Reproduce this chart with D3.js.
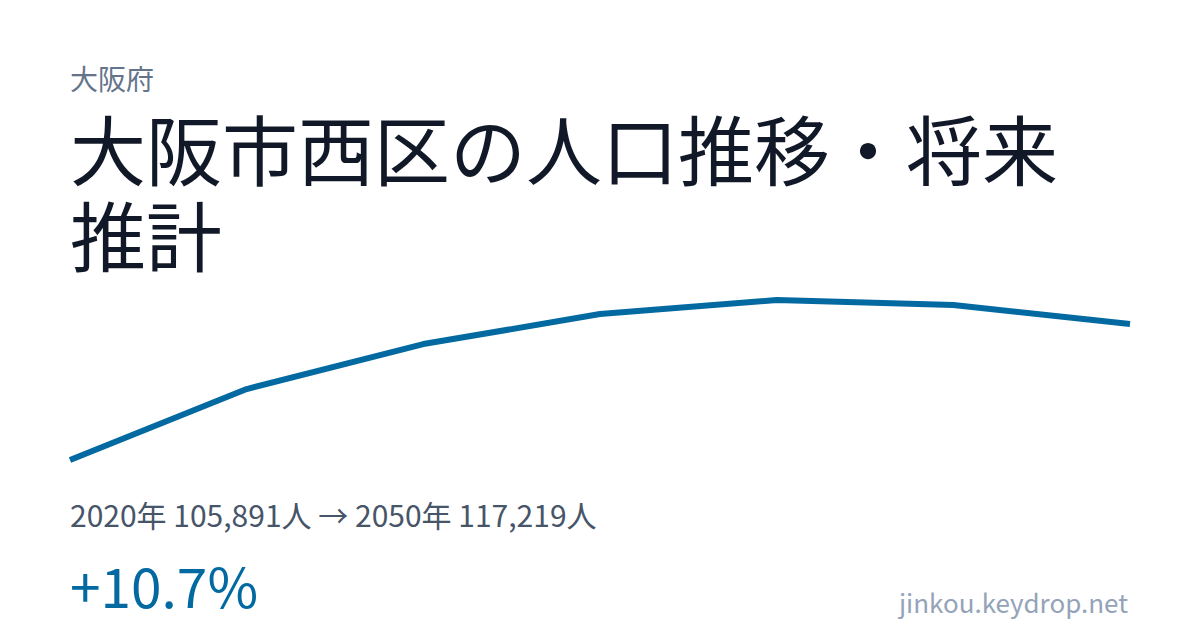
<!DOCTYPE html>
<html>
<head>
<meta charset="utf-8">
<script src="https://cdn.jsdelivr.net/npm/d3@7"></script>
<style>
  html, body { margin: 0; padding: 0; background: #fff; }
  svg { display: block; font-family: "Noto Sans CJK JP", "Noto Sans", sans-serif; }
</style>
</head>
<body>
<svg id="card"></svg>
<script>
// Population by year (ends exact)
var years = [2020, 2025, 2030, 2035, 2040, 2045, 2050];
var population = [105891, 111800, 115550, 118050, 119220, 118800, 117219];

var prefecture = "大阪府";
var title = "大阪市西区の人口推移・将来推計";
var site = "jinkou.keydrop.net";

var width = 1200,
    height = 630,
    left = 70,
    right = 1130;

var svg = d3.select("#card")
  .attr("width", width)
  .attr("height", height);

// Scales for the line
var x = d3.scalePoint()
  .domain(years)
  .range([left, right]);

var y = d3.scaleLinear()
  .domain(d3.extent(population))
  .range([460, 300]);

// Header texts
svg.append("text")
  .attr("x", left)
  .attr("y", 90)
  .attr("fill", "#64748b")
  .style("font-size", "28px")
  .text(prefecture);

svg.append("text")
  .attr("class", "title")
  .attr("x", left)
  .attr("y", 180)
  .attr("fill", "#111827")
  .style("font-size", "76px")
  .text(title)
  .call(wrap, right - left);

// Population line
var line = d3.line()
  .x(function (d, i) { return x(years[i]); })
  .y(function (d) { return y(d); });

svg.append("path")
  .datum(population)
  .attr("d", line)
  .attr("fill", "none")
  .attr("stroke", "#0369a1")
  .attr("stroke-width", 6)
  .attr("stroke-linejoin", "round");

// Summary
var first = population[0],
    last = population[population.length - 1],
    fmt = d3.format(",");

svg.append("text")
  .attr("x", left)
  .attr("y", 527)
  .attr("fill", "#475569")
  .style("font-size", "30px")
  .text(years[0] + "年 " + fmt(first) + "人 → " + years[years.length - 1] + "年 " + fmt(last) + "人");

var change = (last - first) / first * 100;
svg.append("text")
  .attr("x", left)
  .attr("y", 608)
  .attr("fill", "#0369a1")
  .style("font-size", "55px")
  .text((change >= 0 ? "+" : "") + change.toFixed(1) + "%");

svg.append("text")
  .attr("x", right - 2)
  .attr("y", 613)
  .attr("fill", "#94a3b8")
  .style("font-size", "26px")
  .style("text-anchor", "end")
  .text(site);

// Wrap CJK text char by char
function wrap(text, maxWidth) {
  text.each(function () {
    var text = d3.select(this),
        chars = text.text().split("").reverse(),
        ch,
        line = [],
        lineNumber = 0,
        lineHeight = 86,
        x0 = text.attr("x"),
        y0 = +text.attr("y"),
        tspan = text.text(null).append("tspan").attr("x", x0).attr("y", y0);
    while (ch = chars.pop()) {
      line.push(ch);
      tspan.text(line.join(""));
      if (tspan.node().getComputedTextLength() > maxWidth) {
        line.pop();
        tspan.text(line.join(""));
        line = [ch];
        tspan = text.append("tspan").attr("x", x0)
          .attr("y", y0 + (++lineNumber) * lineHeight).text(ch);
      }
    }
  });
}
</script>
</body>
</html>
